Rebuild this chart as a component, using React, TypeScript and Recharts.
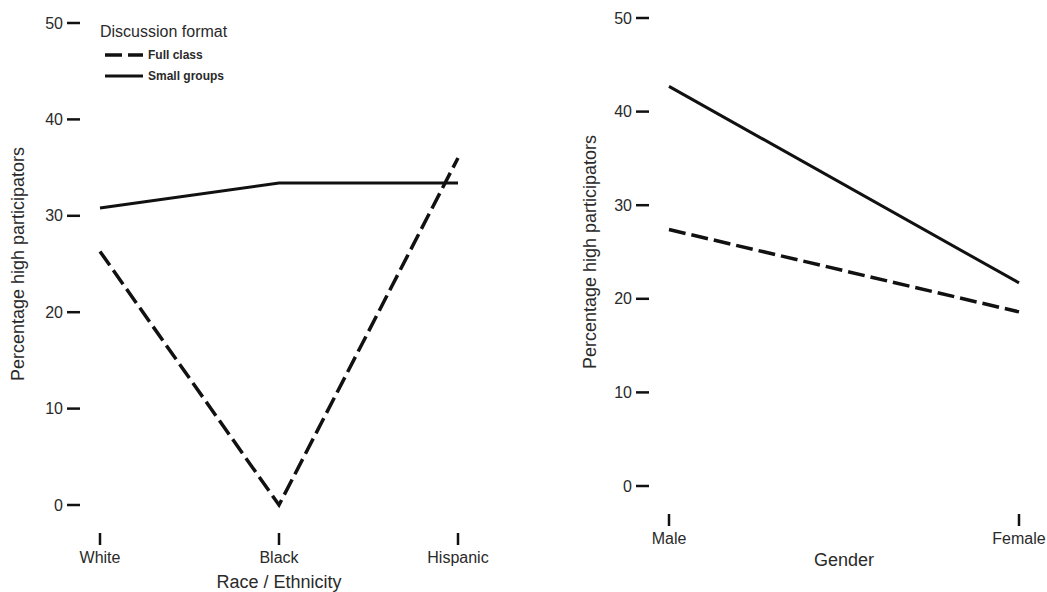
import { LineChart, Line, XAxis, YAxis, Legend } from "recharts";

// left panel: race / ethnicity
const raceCategories = ["White", "Black", "Hispanic"];
const raceFullClass = [26.3, 0, 36.0];
const raceSmallGroups = [30.8, 33.4, 33.4];

// right panel: gender
const genderCategories = ["Male", "Female"];
const genderFullClass = [27.4, 18.6];
const genderSmallGroups = [42.7, 21.7];

const yTicks = [0, 10, 20, 30, 40, 50];

const seriesNames = { fullClass: "Full class", smallGroups: "Small groups" };
const legendTitle = "Discussion format";
const yTitle = "Percentage high participators";

const FONT = '"Liberation Sans", Arial, sans-serif';
const INK = "#111";
const TEXT = "#2a2a2a";
const DASH = "17 6";

const raceData = raceCategories.map((name, i) => ({
  name,
  fullClass: raceFullClass[i],
  smallGroups: raceSmallGroups[i],
}));

const genderData = genderCategories.map((name, i) => ({
  name,
  fullClass: genderFullClass[i],
  smallGroups: genderSmallGroups[i],
}));

function YTick({ x, y, payload }: any) {
  return (
    <g>
      <line x1={x - 33} x2={x - 20} y1={y} y2={y} stroke={INK} strokeWidth={2.5} />
      <text
        x={x - 37}
        y={y}
        textAnchor="end"
        dominantBaseline="central"
        fontSize={16}
        fill={TEXT}
        fontFamily={FONT}
      >
        {payload.value}
      </text>
    </g>
  );
}

function XTick({ x, y, payload }: any) {
  return (
    <g>
      <line x1={x} x2={x} y1={y + 28} y2={y + 40} stroke={INK} strokeWidth={2.5} />
      <text
        x={x}
        y={y + 52}
        textAnchor="middle"
        dominantBaseline="central"
        fontSize={16}
        fill={TEXT}
        fontFamily={FONT}
      >
        {payload.value}
      </text>
    </g>
  );
}

const xTitle = (text: string, dy: number) => (props: any) => {
  const { x, y, width } = props.viewBox;
  return (
    <text
      x={x + width / 2}
      y={y + dy}
      textAnchor="middle"
      dominantBaseline="central"
      fontSize={18}
      fill={TEXT}
      fontFamily={FONT}
    >
      {text}
    </text>
  );
};

const yTitleLabel = (dx: number) => (props: any) => {
  const { x, y, height } = props.viewBox;
  const cx = x + dx;
  const cy = y + height / 2;
  return (
    <text
      x={cx}
      y={cy}
      transform={`rotate(-90 ${cx} ${cy})`}
      textAnchor="middle"
      dominantBaseline="central"
      fontSize={18}
      fill={TEXT}
      fontFamily={FONT}
    >
      {yTitle}
    </text>
  );
};

function LegendBox() {
  const rows = [
    { label: seriesNames.fullClass, dash: DASH, w: 3.5 },
    { label: seriesNames.smallGroups, dash: undefined, w: 3 },
  ];
  return (
    <div style={{ fontFamily: FONT, color: TEXT }}>
      <div style={{ fontSize: 16, lineHeight: "18px", height: 21 }}>{legendTitle}</div>
      {rows.map((r) => (
        <div key={r.label} style={{ display: "flex", alignItems: "center", height: 21 }}>
          <svg width={43} height={20} style={{ display: "block" }}>
            <line x1={5} x2={43} y1={10} y2={10} stroke={INK} strokeWidth={r.w} strokeDasharray={r.dash} />
          </svg>
          <span style={{ fontSize: 12, fontWeight: "bold", marginLeft: 5 }}>{r.label}</span>
        </div>
      ))}
    </div>
  );
}

export default function App() {
  return (
    <div
      style={{
        position: "absolute",
        top: 0,
        left: 0,
        width: 1047,
        height: 592,
        background: "#fff",
        fontFamily: FONT,
      }}
    >
      {/* Race / Ethnicity */}
      <div style={{ position: "absolute", left: 0, top: 0 }}>
        <LineChart width={540} height={592} data={raceData} margin={{ top: 23, right: 82, left: 0, bottom: 0 }}>
          <XAxis
            dataKey="name"
            axisLine={false}
            tickLine={false}
            tickSize={0}
            tickMargin={0}
            height={87}
            interval={0}
            tick={<XTick />}
            label={xTitle("Race / Ethnicity", 77)}
          />
          <YAxis
            type="number"
            domain={[0, 50]}
            ticks={yTicks}
            axisLine={false}
            tickLine={false}
            tickSize={0}
            tickMargin={0}
            width={100}
            tick={<YTick />}
            label={yTitleLabel(18)}
          />
          <Legend
            layout="horizontal"
            verticalAlign="middle"
            align="center"
            content={<LegendBox />}
            wrapperStyle={{ top: 23, left: 100, width: 220 }}
          />
          <Line
            type="linear"
            dataKey="fullClass"
            name={seriesNames.fullClass}
            stroke={INK}
            strokeWidth={3.5}
            strokeDasharray={DASH}
            dot={false}
            activeDot={false}
            isAnimationActive={false}
          />
          <Line
            type="linear"
            dataKey="smallGroups"
            name={seriesNames.smallGroups}
            stroke={INK}
            strokeWidth={3}
            dot={false}
            activeDot={false}
            isAnimationActive={false}
          />
        </LineChart>
      </div>

      {/* Gender */}
      <div style={{ position: "absolute", left: 560, top: 0 }}>
        <LineChart width={487} height={592} data={genderData} margin={{ top: 18, right: 28, left: 0, bottom: 0 }}>
          <XAxis
            dataKey="name"
            axisLine={false}
            tickLine={false}
            tickSize={0}
            tickMargin={0}
            height={106}
            interval={0}
            tick={<XTick />}
            label={xTitle("Gender", 74)}
          />
          <YAxis
            type="number"
            domain={[0, 50]}
            ticks={yTicks}
            axisLine={false}
            tickLine={false}
            tickSize={0}
            tickMargin={0}
            width={109}
            tick={<YTick />}
            label={yTitleLabel(30)}
          />
          <Line
            type="linear"
            dataKey="fullClass"
            name={seriesNames.fullClass}
            stroke={INK}
            strokeWidth={3.5}
            strokeDasharray={DASH}
            dot={false}
            activeDot={false}
            isAnimationActive={false}
          />
          <Line
            type="linear"
            dataKey="smallGroups"
            name={seriesNames.smallGroups}
            stroke={INK}
            strokeWidth={3}
            dot={false}
            activeDot={false}
            isAnimationActive={false}
          />
        </LineChart>
      </div>
    </div>
  );
}
